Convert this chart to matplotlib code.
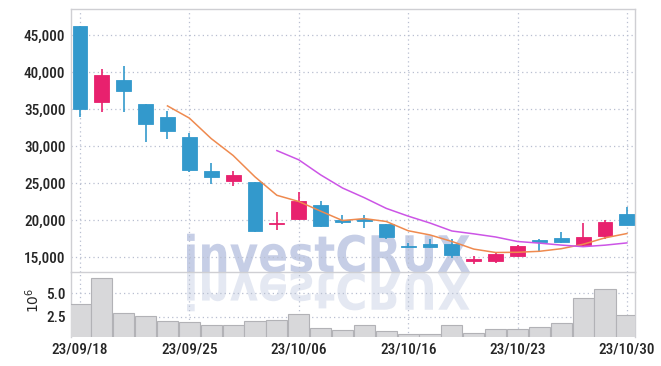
import matplotlib
matplotlib.use("Agg")
import matplotlib.pyplot as plt
import numpy as np
import pandas as pd
from matplotlib.textpath import TextPath
from matplotlib.patches import PathPatch
from matplotlib.font_manager import FontProperties
from matplotlib.transforms import Affine2D, IdentityTransform

# ---------------- data ----------------
dates = ['23/09/18', '23/09/19', '23/09/20', '23/09/21', '23/09/22', '23/09/25',
         '23/09/26', '23/09/27', '23/10/04', '23/10/05', '23/10/06', '23/10/10',
         '23/10/11', '23/10/12', '23/10/13', '23/10/16', '23/10/17', '23/10/18',
         '23/10/19', '23/10/20', '23/10/23', '23/10/24', '23/10/25', '23/10/26',
         '23/10/27', '23/10/30']
opens = [46250, 36000, 38900, 35650, 33900, 31200, 26650, 25250, 25150, 19400,
         20150, 22000, 20000, 20200, 19450, 16550, 16750, 16750, 14500, 14400,
         15100, 17300, 17600, 16600, 17900, 20850]
highs = [46250, 40450, 40850, 35700, 34730, 31700, 27750, 26650, 25200, 21100,
         23750, 22600, 20700, 20650, 19500, 16950, 17400, 17400, 15150, 15700,
         16650, 17500, 18350, 19550, 19950, 21700]
lows = [33950, 34550, 34550, 30600, 30950, 26450, 24850, 24600, 18400, 18700,
        20000, 19000, 19500, 18950, 17500, 16200, 16250, 14800, 14050, 14200,
        15050, 15650, 16850, 16300, 17500, 19300]
closes = [35000, 39600, 37450, 33000, 32050, 26750, 25750, 26050, 18550, 19600,
          22550, 19250, 19700, 19850, 17650, 16300, 16400, 15300, 14700, 15350,
          16450, 17050, 17050, 17700, 19700, 19350]
volumes = [3.82e6, 6.6e6, 2.86e6, 2.57e6, 2.0e6, 1.9e6, 1.58e6, 1.58e6, 2.0e6,
           2.1e6, 2.75e6, 1.26e6, 1.05e6, 1.58e6, 0.9e6, 0.62e6, 0.62e6, 1.58e6,
           0.72e6, 1.15e6, 1.15e6, 1.37e6, 1.8e6, 4.47e6, 5.43e6, 2.65e6]
price_ticks = [15000, 20000, 25000, 30000, 35000, 40000, 45000]
vol_ticks = [2.5e6, 5.0e6]
date_tick_idx = [0, 5, 10, 15, 20, 25]

# ---------------- style ----------------
UP = '#e8216e'
DOWN = '#3399cc'
MA5_C = '#ef8a4f'
MA10_C = '#cc55e6'
GRID_C = '#b8bfd0'
SPINE_C = '#cfcfd3'
TXT_C = '#262626'
FONT = ['Liberation Sans Narrow', 'DejaVu Sans Condensed', 'Roboto Condensed', 'Roboto', 'DejaVu Sans']
FS = 11
FW = 'medium'

W, H = 661, 366
fig = plt.figure(figsize=(W / 100, H / 100), dpi=100)
fig.patch.set_facecolor('white')

L, R = 71 / W, 635 / W
ax = fig.add_axes([L, 1 - 272 / H, R - L, (272 - 9) / H])
axv = fig.add_axes([L, 1 - 337 / H, R - L, (337 - 272) / H], sharex=ax)
for a in (ax, axv):
    a.set_facecolor('none')

x = np.arange(len(dates))
o = np.array(opens); c = np.array(closes); h = np.array(highs); lo = np.array(lows)
up = c >= o
colors = np.where(up, UP, DOWN)

# wicks
ax.vlines(x, lo, h, colors=colors, linewidth=1.2, zorder=3)
# bodies
ax.bar(x, np.abs(c - o), bottom=np.minimum(o, c), width=0.68,
       color=colors, edgecolor=colors, linewidth=0.6, zorder=4)

# moving averages
s = pd.Series(closes, dtype=float)
ma5 = s.rolling(5).mean()
ma10 = s.rolling(10).mean()
ax.plot(x, ma5, color=MA5_C, linewidth=1.1, zorder=5)
ax.plot(x, ma10, color=MA10_C, linewidth=1.1, zorder=5)

# volume
axv.bar(x, volumes, width=0.97, color='#d8d8da', edgecolor='#b2b2b6',
        linewidth=0.8, zorder=3)

# axes limits
ax.set_xlim(-0.41, 25.37)
ax.set_ylim(12973, 48514)
axv.set_ylim(0.3e6, 7.28e6)

# grid
for a in (ax, axv):
    a.grid(True, color=GRID_C, linestyle=(0, (1, 2.5)), linewidth=0.9, zorder=0)
    a.set_axisbelow(True)
    a.tick_params(length=0, colors=TXT_C, pad=4)

ax.set_yticks(price_ticks)
ax.set_yticklabels([f'{v:,}' for v in price_ticks], family=FONT, fontsize=FS,
                   color=TXT_C, fontweight=FW)
ax.set_xticks([x[i] for i in date_tick_idx])
ax.tick_params(axis='x', labelbottom=False)

axv.set_yticks(vol_ticks)
axv.set_yticklabels([f'{v / 1e6:.1f}' for v in vol_ticks], family=FONT, fontsize=FS,
                    color=TXT_C, fontweight=FW)
axv.set_xticks([x[i] for i in date_tick_idx])
axv.set_xticklabels([dates[i] for i in date_tick_idx], family=FONT, fontsize=FS,
                    color=TXT_C, fontweight=FW)
axv.tick_params(axis='x', pad=4)

for a in (ax, axv):
    for sp in a.spines.values():
        sp.set_color(SPINE_C)
        sp.set_linewidth(1.0)
ax.spines['bottom'].set_visible(False)
axv.spines['bottom'].set_visible(False)

fig.text(33 / W, 1 - 300 / H, r'$10^6$', rotation=90, ha='center', va='center',
         fontsize=10, color=TXT_C)

# watermark (behind axes)
fp = FontProperties(family='DejaVu Sans', weight='bold')
tp = TextPath((0, 0), 'investCRUX', size=1, prop=fp)
ext = tp.get_extents()
x0, x1 = 187, 470
base = H - 272
hgt = 39
sx = (x1 - x0) / ext.width
sy = hgt / ext.height
t_main = Affine2D().translate(-ext.x0, 0).scale(sx, sy).translate(x0, base)
t_refl = Affine2D().translate(-ext.x0, 0).scale(sx, -sy).translate(x0, base - 1)
p1 = PathPatch(t_main.transform_path(tp), facecolor='#c6cee6', edgecolor='none',
               transform=IdentityTransform(), zorder=-1)
p2 = PathPatch(t_refl.transform_path(tp), facecolor='#e4e8f2', edgecolor='none',
               transform=IdentityTransform(), zorder=-1)
fig.add_artist(p1)
fig.add_artist(p2)

fig.savefig('out.png', dpi=100)
